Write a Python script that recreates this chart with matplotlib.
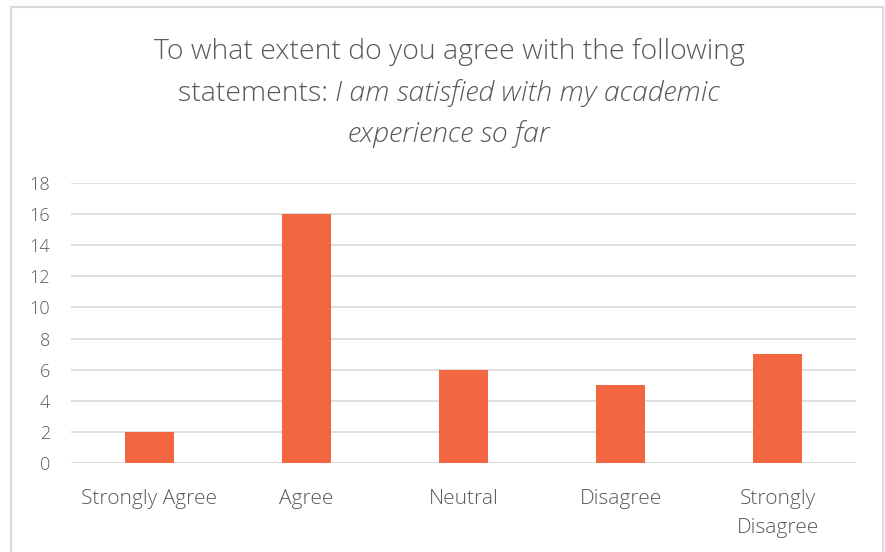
import matplotlib.pyplot as plt
from matplotlib.offsetbox import TextArea, HPacker, VPacker, AnnotationBbox
from matplotlib.patches import Rectangle

# --- Data ---
categories = ['Strongly Agree', 'Agree', 'Neutral', 'Disagree', 'Strongly\nDisagree']
counts = [2, 16, 6, 5, 7]
yticks = [0, 2, 4, 6, 8, 10, 12, 14, 16, 18]

bar_color = '#F26641'
text_color = '#595959'
grid_color = '#D9D9D9'
font = 'Open Sans'

fig = plt.figure(figsize=(8.85, 5.52), dpi=100)
ax = fig.add_axes([0.0802, 0.1612, 0.8871, 0.5073])

x = range(len(categories))
ax.bar(x, counts, width=0.31, color=bar_color, zorder=3)

ax.set_xlim(-0.5, len(categories) - 0.5)
ax.set_ylim(0, 18)
ax.set_yticks(yticks)
ax.set_yticklabels([str(t) for t in yticks], fontfamily=font, fontsize=13,
                   color=text_color, fontweight='light')
ax.set_xticks(list(x))
ax.set_xticklabels(categories, fontfamily=font, fontsize=15, color=text_color,
                   fontweight='light', linespacing=1.6, va='top')
ax.tick_params(axis='x', length=0, pad=19)
ax.tick_params(axis='y', length=0, pad=15)

ax.grid(axis='y', color=grid_color, linewidth=1.2, zorder=0)
for s in ax.spines.values():
    s.set_visible(False)

# --- Title with italic part ---
tprops = dict(fontfamily=font, fontsize=20.5, color=text_color, fontweight='light')
line1 = TextArea('To what extent do you agree with the following', textprops=tprops)
line2 = HPacker(children=[
    TextArea('statements: ', textprops=tprops),
    TextArea('I am satisfied with my academic', textprops=dict(tprops, fontstyle='italic')),
], align='baseline', pad=0, sep=0)
line3 = TextArea('experience so far', textprops=dict(tprops, fontstyle='italic'))
title = VPacker(children=[line1, line2, line3], align='center', pad=0, sep=9)
ab = AnnotationBbox(title, (449 / 885, 1 - 93 / 552), xycoords='figure fraction',
                    frameon=False, box_alignment=(0.5, 0.5))
fig.add_artist(ab)

# chart border
fig.add_artist(Rectangle((11 / 885, -0.1), 872 / 885, 1.1 - 7 / 552,
                         transform=fig.transFigure, fill=False,
                         edgecolor=grid_color, linewidth=1.5))

fig.savefig('out.png', dpi=100, facecolor='white')
